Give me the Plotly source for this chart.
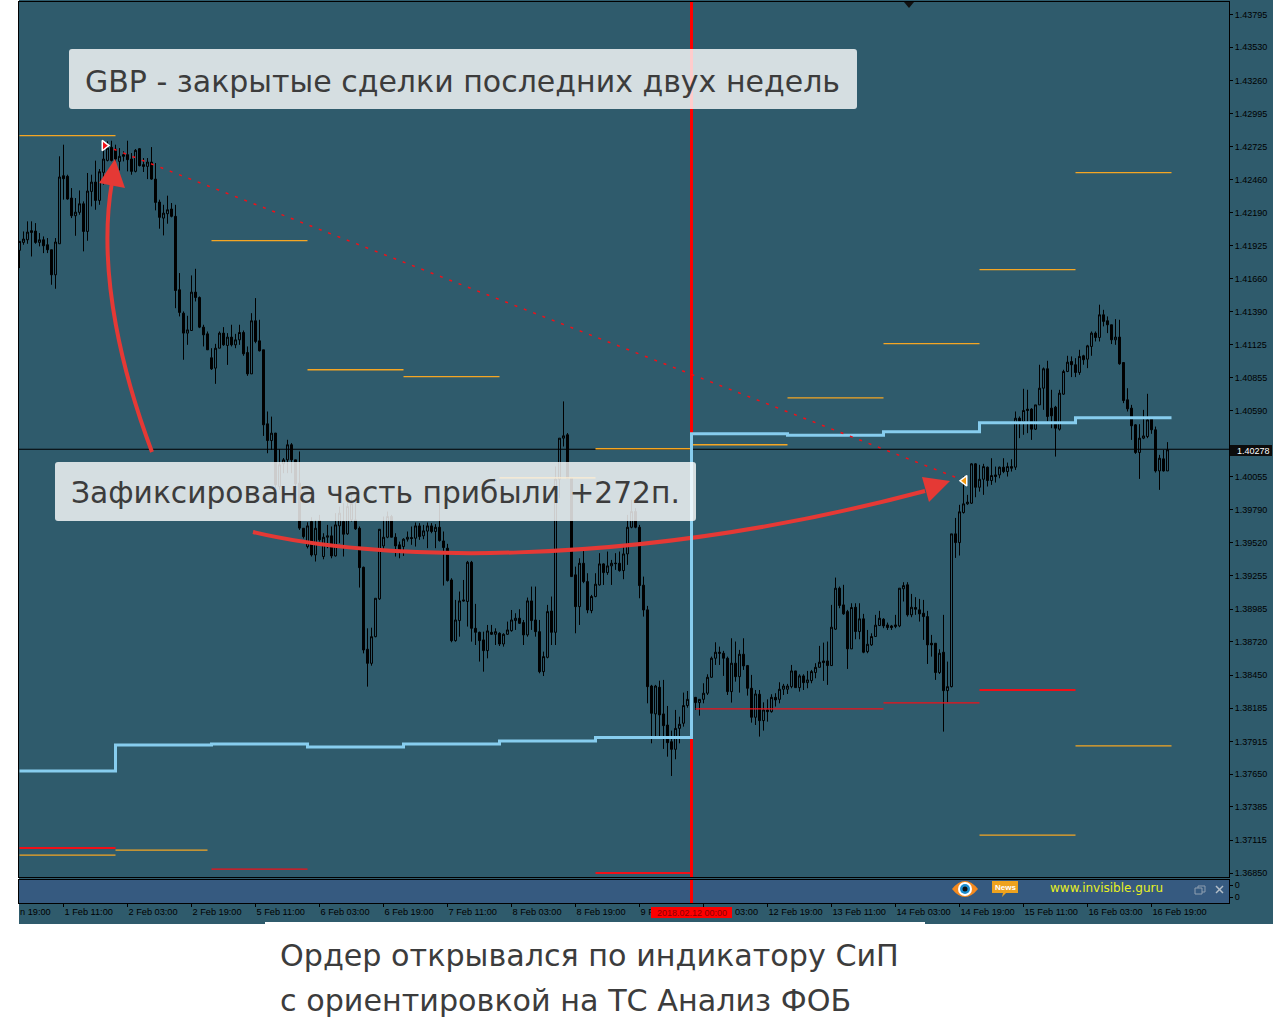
import plotly.graph_objects as go
from plotly.subplots import make_subplots

W, H = 1273, 1030

# hourly candles (in 1e-5 price points, see to_price)
opens = [
    141902,141966,141987,142060,142057,141966,141987,141947,141907,141706,
    141955,142501,142496,142322,142180,142207,142276,142054,142375,142450,
    142303,142528,142624,142729,142715,142616,142670,142670,142635,142536,
    142718,142590,142576,142611,142474,142290,142161,142196,142234,142175,
    141586,141398,141238,141259,141567,141524,141286,141232,141040,140957,
    141117,141238,141139,141206,141144,141184,141243,141082,140911,141337,
    141176,141104,140510,140376,140436,140007,140189,140221,140342,140221,
    140034,139672,139525,139726,139458,139734,139445,139600,139611,139450,
    139691,139726,139627,139739,139739,139672,139359,138701,138588,138802,
    139105,139530,139600,139766,139600,139539,139525,139584,139597,139592,
    139691,139611,139649,139691,139646,139680,139570,139512,139257,138770,
    138931,139097,139084,139399,138869,138837,138776,138690,138837,138821,
    138829,138743,138821,138850,138931,138950,138915,138816,139089,138936,
    138842,138521,138636,139008,138837,140066,140395,140422,140074,139298,
    139043,139391,139244,139011,139124,139217,139386,139316,139370,139393,
    139391,139332,139466,139680,139806,139680,139215,139017,138406,138182,
    138396,138182,138093,137959,137898,138066,138107,138249,138260,138315,
    138273,138299,138348,138476,138629,138677,138669,138629,138361,138589,
    138481,138661,138570,138388,138155,138340,138128,138214,138200,138315,
    138299,138380,138380,138401,138527,138393,138487,138433,138449,138514,
    138556,138607,138607,138570,138862,139191,139057,139003,138704,139038,
    138843,138945,138682,138736,138803,138891,138942,138896,138888,138883,
    138888,139186,139218,138977,139036,139017,138990,138963,138749,138749,
    138514,138677,138369,138401,139627,139557,139798,139868,139873,140189,
    140001,140065,140162,140055,140100,140100,140162,140127,140167,140162,
    140555,140529,140628,140628,140467,140662,140796,140952,140636,140644,
    140467,140748,140930,141010,140984,140922,141056,141029,141131,141238,
    141203,141385,141337,141305,141184,141206,141002,140703,140636,140502,
    140280,140395,140408,140547,140462,140132,140229,140132,
]
highs = [
    141974,142054,142135,142135,142121,142041,142014,142001,141907,142001,
    142657,142750,142509,142402,142322,142383,142295,142523,142509,142622,
    142555,142742,142777,142782,142750,142723,142697,142782,142683,142715,
    142723,142643,142643,142731,142603,142309,142268,142341,142282,142268,
    141720,141412,141377,141701,141754,141532,141305,141251,141117,141152,
    141251,141286,141238,141305,141232,141305,141259,141131,141398,141519,
    141345,141104,140609,140568,140436,140307,140235,140382,140355,140221,
    140288,139672,139720,139760,139739,139779,139632,139699,139686,139793,
    139846,139873,139873,139953,139900,139686,139364,138869,138874,139110,
    139664,139766,139806,139779,139632,139565,139592,139646,139686,139718,
    139713,139699,139718,139713,139705,139967,139646,139547,139271,139097,
    139164,139257,139410,139410,139065,138842,138842,138896,138896,138869,
    138837,138829,138923,139016,138990,139022,138936,139116,139204,139204,
    138936,138682,139057,139124,140168,140395,140690,140436,140074,139364,
    139431,139512,139311,139137,139311,139472,139391,139485,139418,139472,
    139485,139539,139779,139900,139833,139699,139284,139049,138415,138415,
    138449,138455,138246,138048,138214,138160,138353,138366,138340,138315,
    138299,138428,138500,138642,138757,138722,138688,138642,138789,138763,
    138696,138789,138575,138495,138374,138374,138275,138299,138340,138348,
    138436,138423,138423,138575,138527,138500,138500,138527,138535,138589,
    138728,138754,138763,139057,139276,139204,139218,139017,139070,139070,
    139070,138985,138856,138829,138977,139009,138950,138915,138896,138977,
    139191,139239,139239,139145,139119,139105,139097,139009,138816,138749,
    138701,138977,138602,139627,139755,139860,140087,139940,140194,140194,
    140181,140189,140167,140234,140167,140167,140234,140199,140226,140609,
    140569,140791,140783,140636,140662,140984,140962,141016,140783,140654,
    140783,140944,141056,141051,141037,141104,141064,141144,141251,141251,
    141466,141425,141372,141305,141350,141345,141002,140796,140662,140507,
    140507,140622,140751,140555,140488,140261,140301,140363,
]
lows = [
    141760,141947,141955,141853,141955,141934,141880,141880,141626,141594,
    141955,142309,142309,142161,142019,142188,141894,141979,142255,142228,
    142268,142429,142616,142616,142603,142544,142616,142536,142509,142528,
    142576,142531,142474,142469,142223,142076,142022,142116,142167,141438,
    141372,141024,141144,141259,141492,141278,141131,141104,140943,140831,
    141117,141136,140983,141131,141117,141144,141056,140895,140911,141157,
    141091,140413,140274,140301,139994,139981,140114,140114,140114,139981,
    139659,139590,139510,139445,139405,139565,139423,139512,139431,139445,
    139552,139445,139619,139726,139659,139196,138668,138401,138569,138797,
    139097,139493,139592,139600,139445,139431,139450,139565,139539,139525,
    139579,139584,139512,139632,139512,139565,139212,139244,138757,138762,
    138802,139084,138883,138762,138735,138602,138521,138628,138816,138735,
    138727,138722,138816,138842,138856,138904,138735,138802,138856,138802,
    138508,138486,138628,138735,138735,139913,140328,140074,139284,138829,
    138896,139231,138990,138990,139118,139212,139217,139298,139217,139338,
    139324,139263,139378,139672,139672,139110,138963,138267,137946,138000,
    138000,137901,137839,137684,137818,137946,138080,138232,138230,138214,
    138168,138267,138334,138473,138575,138575,138487,138334,138273,138441,
    138353,138535,138329,138112,138093,138000,138048,138120,138192,138241,
    138267,138334,138342,138388,138393,138361,138374,138388,138428,138468,
    138554,138447,138415,138567,138856,139030,138977,138543,138704,138781,
    138781,138669,138669,138728,138803,138888,138870,138856,138856,138870,
    138878,139084,138963,138958,138977,138923,138776,138583,138642,138455,
    138503,138040,138275,138395,139434,139453,139790,139860,139867,139921,
    139966,139940,140007,140020,140039,140073,140114,140087,140127,140140,
    140395,140422,140435,140381,140462,140662,140622,140529,140475,140247,
    140456,140743,140925,140885,140885,140903,140984,140957,141056,141171,
    141171,141292,141238,141150,141144,140984,140676,140609,140381,140269,
    140068,140387,140395,140430,140119,139980,140127,140132,
]
closes = [
    141974,141993,142049,142046,141966,141987,141939,141907,141706,141969,
    142491,142477,142314,142180,142209,142276,142054,142378,142450,142303,
    142533,142635,142723,142624,142635,142657,142657,142630,142536,142705,
    142582,142576,142611,142474,142287,142167,142201,142228,142175,141580,
    141404,141238,141264,141567,141524,141286,141224,141104,140951,141117,
    141238,141144,141206,141144,141184,141243,141072,140911,141337,141171,
    141096,140502,140376,140435,140021,140181,140221,140342,140221,140029,
    139673,139605,139691,139458,139672,139579,139600,139611,139450,139699,
    139793,139624,139846,139873,139667,139356,138695,138588,138802,139110,
    139664,139600,139766,139600,139530,139485,139584,139600,139590,139691,
    139605,139651,139691,139646,139680,139573,139517,139252,138770,138936,
    139089,139089,139399,138869,138837,138770,138690,138848,138821,138842,
    138743,138821,138856,138936,138950,138909,138816,139089,138931,138842,
    138521,138642,139003,138837,140066,140395,140414,140074,139284,139043,
    139391,139244,139016,139124,139223,139386,139316,139370,139391,139388,
    139332,139466,139680,139806,139680,139212,139016,138401,138187,138406,
    138174,138088,137951,137898,138066,138099,138249,138299,138305,138273,
    138299,138348,138476,138629,138677,138669,138629,138361,138589,138481,
    138661,138567,138388,138155,138342,138128,138214,138200,138315,138294,
    138380,138406,138406,138527,138393,138487,138433,138455,138522,138556,
    138597,138594,138570,138878,139191,139052,138985,138704,139036,138843,
    138945,138677,138741,138803,138894,138950,138888,138875,138875,138896,
    139191,139212,138977,139038,139022,138985,138963,138736,138736,138514,
    138669,138369,138401,139627,139557,139804,139868,139882,140189,140001,
    140065,140167,140055,140095,140087,140162,140127,140167,140154,140555,
    140529,140617,140617,140467,140662,140796,140952,140569,140574,140475,
    140756,140930,141005,140984,140922,141051,141024,141136,141238,141203,
    141385,141332,141305,141184,141206,140992,140697,140630,140494,140280,
    140395,140413,140542,140462,140132,140234,140132,140302,
]

# light blue step line, one level per trading day
day_starts = [0, 24, 48, 72, 96, 120, 144, 168, 192, 216, 240, 264, 288]
blue_levels = [137724, 137933, 137941, 137917, 137941, 137965, 137993,
               140430, 140418, 140446, 140518, 140558]

# daily level segments: start bar, end bar, level
orange_starts = [0, 48, 72, 96, 120, 144, 168, 192, 216, 240, 264, 264, 240, 0, 24]
orange_ends = [24, 72, 96, 120, 144, 168, 192, 216, 240, 264, 288, 288, 264, 24, 47]
orange_levels = [142823, 141980, 140944, 140888, 140077, 140310, 140342, 140719,
                 141153, 141747, 142526, 137925, 137210, 137049, 137089]
red_starts = [0, 144, 240, 48, 169, 216]
red_ends = [24, 168, 264, 72, 216, 240]
red_levels = [137106, 136905, 138374, 136937, 138222, 138270]
red_widths = [2, 2, 2, 1.3, 1.3, 1.3]

# closed trade
trade_bars = [21.25, 236.25]
trade_levels = [142743, 140053]

current_price = 1.40278
order_bar = 168

price_ticks = [1.43795, 1.43530, 1.43260, 1.42995, 1.42725, 1.42460, 1.42190,
               1.41925, 1.41660, 1.41390, 1.41125, 1.40855, 1.40590, 1.40055,
               1.39790, 1.39520, 1.39255, 1.38985, 1.38720, 1.38450, 1.38185,
               1.37915, 1.37650, 1.37385, 1.37115, 1.36850]
# the red time tag hides most of two labels, only what shows is written
time_tick_bars = [11, 27, 43, 59, 75, 91, 107, 123, 139, 155, 171, 187, 203,
                  219, 235, 251, 267, 283]
time_tick_labels = ['1 Feb 11:00', '2 Feb 03:00', '2 Feb 19:00', '5 Feb 11:00',
                    '6 Feb 03:00', '6 Feb 19:00', '7 Feb 11:00', '8 Feb 03:00',
                    '8 Feb 19:00', '9 F', '', '12 Feb 19:00',
                    '13 Feb 11:00', '14 Feb 03:00', '14 Feb 19:00', '15 Feb 11:00',
                    '16 Feb 03:00', '16 Feb 19:00']

TEAL = '#2f5b6c'
STRIP = '#365a80'
ARROW = '#e53935'
ORANGE = '#f5a623'
LIGHT_BLUE = '#87cdee'
TICK_FONT = dict(family='Liberation Sans', size=9, color='#000000')
TEXT_COLOR = '#3c3c3c'
# half a bar off so the 4 px wide bars land on whole pixels
BAR_RANGE = [-0.125, 302.375]


def to_price(points):
    # readings were taken at 8.03 points per pixel, the axis labels give 8.094
    return (143916.4 - 1.00797 * (143915.5 - points)) / 1e5


def px(x):
    return x / W


def py(y):
    return 1 - y / H


def path(*items):
    # items: SVG command letters and (x, y) pixel pairs
    parts = []
    for item in items:
        if isinstance(item, str):
            parts.append(item)
        else:
            parts.append(f'{px(item[0]):.5f},{py(item[1]):.5f}')
    return ' '.join(parts)


def rounded_box(x0, y0, x1, y1, r=3):
    return path('M', (x0 + r, y0), 'L', (x1 - r, y0), 'Q', (x1, y0), (x1, y0 + r),
                'L', (x1, y1 - r), 'Q', (x1, y1), (x1 - r, y1),
                'L', (x0 + r, y1), 'Q', (x0, y1), (x0, y1 - r),
                'L', (x0, y0 + r), 'Q', (x0, y0), (x0 + r, y0), 'Z')


def add_text(fig, x, y, text, size, color=TEXT_COLOR, family='DejaVu Sans', anchor='left'):
    fig.add_annotation(x=px(x), y=py(y), xref='paper', yref='paper', text=text,
                       showarrow=False, xanchor=anchor, yanchor='middle',
                       font=dict(family=family, size=size, color=color))


fig = make_subplots(rows=2, cols=1, shared_xaxes=True)

bars = list(range(len(opens)))
fig.add_trace(go.Candlestick(
    x=bars,
    open=[to_price(v) for v in opens],
    high=[to_price(v) for v in highs],
    low=[to_price(v) for v in lows],
    close=[to_price(v) for v in closes],
    increasing=dict(line=dict(color='black', width=1), fillcolor=TEAL),
    decreasing=dict(line=dict(color='black', width=1), fillcolor='black'),
    whiskerwidth=0,
    hoverinfo='skip',
), row=1, col=1)

# current price line
fig.add_trace(go.Scatter(x=[-1, 303], y=[current_price, current_price], mode='lines',
                         line=dict(color='black', width=1), hoverinfo='skip'), row=1, col=1)

# level segments
for start, end, level in zip(orange_starts, orange_ends, orange_levels):
    fig.add_trace(go.Scatter(x=[start, end], y=[to_price(level)] * 2, mode='lines',
                             line=dict(color=ORANGE, width=1.3), hoverinfo='skip'), row=1, col=1)
for start, end, level, width in zip(red_starts, red_ends, red_levels, red_widths):
    fig.add_trace(go.Scatter(x=[start, end], y=[to_price(level)] * 2, mode='lines',
                             line=dict(color='#f01018', width=width), hoverinfo='skip'), row=1, col=1)

# order time marker runs through both panels
fig.add_trace(go.Scatter(x=[order_bar, order_bar], y=[1.3, 1.5], mode='lines',
                         line=dict(color='#ff0000', width=3), hoverinfo='skip'), row=1, col=1)
fig.add_trace(go.Scatter(x=[order_bar, order_bar], y=[0, 1], mode='lines',
                         line=dict(color='#ff0000', width=3), hoverinfo='skip'), row=2, col=1)

# step line
fig.add_trace(go.Scatter(x=day_starts, y=[to_price(v) for v in blue_levels + blue_levels[-1:]],
                         mode='lines', line=dict(color=LIGHT_BLUE, width=3, shape='hv'),
                         hoverinfo='skip'), row=1, col=1)

# closed trade
fig.add_trace(go.Scatter(x=trade_bars, y=[to_price(v) for v in trade_levels], mode='lines',
                         line=dict(color='#f01018', width=1.5, dash='3px,7px'),
                         hoverinfo='skip'), row=1, col=1)
fig.add_trace(go.Scatter(x=trade_bars[:1], y=[to_price(trade_levels[0])], mode='markers',
                         marker=dict(symbol='triangle-right', size=9, color='#f01018',
                                     line=dict(color='white', width=1.5)),
                         hoverinfo='skip'), row=1, col=1)
fig.add_trace(go.Scatter(x=trade_bars[1:], y=[to_price(trade_levels[1])], mode='markers',
                         marker=dict(symbol='triangle-left', size=9, color='#f59a10',
                                     line=dict(color='white', width=1.5)),
                         hoverinfo='skip'), row=1, col=1)

shapes = [
    # chart window behind everything
    dict(type='rect', xref='paper', yref='paper', x0=px(19), x1=1, y0=py(924), y1=1,
         fillcolor=TEAL, line_width=0, layer='below'),
    dict(type='rect', xref='paper', yref='paper', x0=px(265), x1=px(925), y0=py(924), y1=py(922),
         fillcolor='white', line_width=0, layer='below'),
    dict(type='rect', xref='paper', yref='paper', x0=px(19), x1=px(1229), y0=py(903), y1=py(880),
         fillcolor=STRIP, line_width=0, layer='below'),
    # little mark on the top edge
    dict(type='path', xref='paper', yref='paper', line_width=0, fillcolor='#101010',
         path=path('M', (904, 2), 'L', (914, 2), 'L', (909, 8), 'Z')),
    # arrow to the entry
    dict(type='path', xref='paper', yref='paper', line=dict(color=ARROW, width=4),
         path=path('M', (152, 452), 'C', (125, 380), (96, 275), (112, 182))),
    dict(type='path', xref='paper', yref='paper', line_width=0, fillcolor=ARROW,
         path=path('M', (115, 159), 'L', (99, 183), 'L', (125, 188), 'Z')),
    # arrow to the exit
    dict(type='path', xref='paper', yref='paper', line=dict(color=ARROW, width=4),
         path=path('M', (253, 532), 'C', (370, 560), (620, 572), (925, 491))),
    dict(type='path', xref='paper', yref='paper', line_width=0, fillcolor=ARROW,
         path=path('M', (950, 481), 'L', (922, 477), 'L', (929, 502), 'Z')),
    # blue step crosses over the arrow
    dict(type='rect', xref='paper', yref='paper', x0=px(690), x1=px(693), y0=py(548), y1=py(532),
         fillcolor=LIGHT_BLUE, line_width=0),
    # text boxes
    dict(type='path', xref='paper', yref='paper', line_width=0, fillcolor='rgba(255,255,255,0.8)',
         path=rounded_box(69, 49, 857, 109)),
    dict(type='path', xref='paper', yref='paper', line_width=0, fillcolor='rgba(255,255,255,0.8)',
         path=rounded_box(55, 462, 696, 521)),
    # current price tag and order time tag
    dict(type='rect', xref='paper', yref='paper', x0=px(1230), x1=px(1272), y0=py(456), y1=py(445),
         fillcolor='#0c0c0c', line_width=0),
    dict(type='rect', xref='paper', yref='paper', x0=px(651), x1=px(732), y0=py(918), y1=py(907),
         fillcolor='#ff0000', line_width=0),
    # eye icon
    dict(type='path', xref='paper', yref='paper', line_width=0, fillcolor='#f58a1f',
         path=path('M', (952, 889), 'Q', (965, 873), (978, 889), 'Q', (965, 905), (952, 889), 'Z')),
    dict(type='circle', xref='paper', yref='paper', x0=px(958), x1=px(972), y0=py(896), y1=py(882),
         fillcolor='white', line_width=0),
    dict(type='circle', xref='paper', yref='paper', x0=px(960), x1=px(970), y0=py(894), y1=py(884),
         fillcolor='#1c8ed0', line_width=0),
    dict(type='circle', xref='paper', yref='paper', x0=px(962.5), x1=px(967.5), y0=py(891.5), y1=py(886.5),
         fillcolor='#101010', line_width=0),
    # news icon
    dict(type='path', xref='paper', yref='paper', line_width=0, fillcolor='#eea21e',
         path=path('M', (992, 881), 'L', (1018, 881), 'L', (1018, 893), 'L', (1006, 893),
                   'L', (1002, 897), 'L', (1003, 893), 'L', (992, 893), 'Z')),
    # window buttons
    dict(type='rect', xref='paper', yref='paper', x0=px(1195), x1=px(1202), y0=py(894), y1=py(888),
         line=dict(color='#8f9fb0', width=1), fillcolor=STRIP),
    dict(type='path', xref='paper', yref='paper', line=dict(color='#8f9fb0', width=1),
         path=path('M', (1198, 888), 'L', (1198, 886), 'L', (1205, 886), 'L', (1205, 892), 'L', (1202, 892))),
    dict(type='line', xref='paper', yref='paper', x0=px(1216), x1=px(1223), y0=py(886), y1=py(893),
         line=dict(color='#b4bec8', width=1.5)),
    dict(type='line', xref='paper', yref='paper', x0=px(1216), x1=px(1223), y0=py(893), y1=py(886),
         line=dict(color='#b4bec8', width=1.5)),
]

fig.update_layout(
    width=W,
    height=H,
    margin=dict(l=0, r=0, t=0, b=0),
    paper_bgcolor='white',
    plot_bgcolor=TEAL,
    showlegend=False,
    dragmode=False,
    shapes=shapes,
    xaxis=dict(domain=[px(19), px(1229)], range=BAR_RANGE, showgrid=False, zeroline=False,
               rangeslider=dict(visible=False), showticklabels=False, ticks='',
               showline=True, linecolor='black', linewidth=1, mirror=True),
    yaxis=dict(domain=[py(877), py(1.5)], range=[1.36818, 1.43900], side='right',
               tickmode='array', tickvals=price_ticks,
               ticktext=[f'{v:.5f}' for v in price_ticks], tickfont=TICK_FONT,
               ticks='outside', ticklen=3, tickcolor='black', showgrid=False, zeroline=False,
               showline=True, linecolor='black', linewidth=1, mirror=True),
    xaxis2=dict(domain=[px(19), px(1229)], range=BAR_RANGE, showgrid=False, zeroline=False,
                tickmode='array', tickvals=time_tick_bars, ticktext=time_tick_labels,
                ticklabelposition='outside right', tickangle=0, tickfont=dict(TICK_FONT, size=9.2),
                ticks='outside', ticklen=3, tickcolor='black',
                showline=True, linecolor='black', linewidth=1, mirror=True),
    yaxis2=dict(domain=[py(903), py(880)], range=[0, 1], side='right',
                tickmode='array', tickvals=[0.26, 0.78], ticktext=['0', '0'], tickfont=TICK_FONT,
                ticks='outside', ticklen=3, tickcolor='black', showgrid=False, zeroline=False,
                showline=True, linecolor='black', linewidth=1, mirror=True),
)

add_text(fig, 83, 81, 'GBP - закрытые сделки последних двух недель', 30)
add_text(fig, 69, 492, 'Зафиксирована часть прибыли +272п.', 29.7)
add_text(fig, 278, 955, 'Ордер открывался по индикатору СиП', 30.2)
add_text(fig, 278, 1000, 'с ориентировкой на ТС Анализ ФОБ', 30.2)

add_text(fig, 1235, 450.5, f'{current_price:.5f}', 9, color='white', family='Liberation Sans')
add_text(fig, 18, 912, 'n 19:00', 9.2, color='#000000', family='Liberation Sans')
add_text(fig, 691.5, 912.5, '2018.02.12 00:00', 9, color='#8c0000', family='Liberation Sans', anchor='center')
add_text(fig, 733, 912, '03:00', 9.2, color='#000000', family='Liberation Sans')
add_text(fig, 1005, 887, '<b>News</b>', 8, color='white', family='Liberation Sans', anchor='center')
add_text(fig, 1048, 888, 'www.invisible.guru', 12, color='#e8f020', family='DejaVu Sans')

# drop the browser's default page margin so the 1273 wide figure fits the window
fig.write_html("out.html", config={'displayModeBar': False},
               post_script="document.body.style.margin='0';")
